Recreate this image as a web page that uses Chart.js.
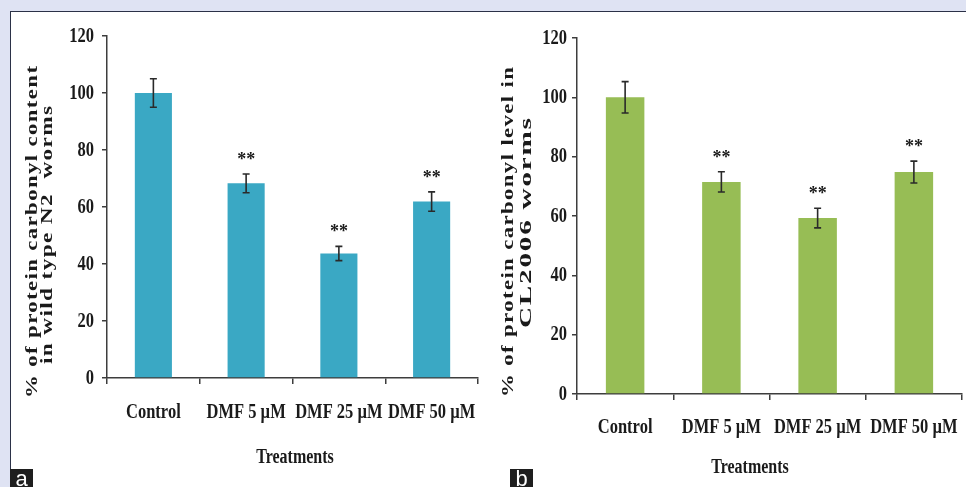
<!DOCTYPE html>
<html>
<head>
<meta charset="utf-8">
<script src="https://cdn.jsdelivr.net/npm/chart.js@4.4.1/dist/chart.umd.min.js"></script>
<style>
  html, body { margin: 0; padding: 0; width: 966px; height: 487px; overflow: hidden; background: #dfe3f3; }
  #panel { position: absolute; left: 10px; top: 11px; width: 956px; height: 476px; background: #fff;
           border-left: 1px solid #2b3147; border-top: 1px solid #2b3147; box-sizing: border-box; }
  #chartA { position: absolute; left: 10px; top: 11px; }
  #chartB { position: absolute; left: 485px; top: 11px; }
  .tag { position: absolute; top: 469px; width: 23px; height: 20px; background: #1e1e1e; color: #fff;
         font: 22px "Liberation Sans", Arial, sans-serif; line-height: 20px; text-align: center; }
</style>
</head>
<body>
<div id="panel"></div>
<canvas id="chartA" width="475" height="476"></canvas>
<canvas id="chartB" width="481" height="476"></canvas>
<div class="tag" style="left:10px;">a</div>
<div class="tag" style="left:510px;">b</div>
<script>
// Treatment groups shared by both panels
const categories = ['Control', 'DMF 5 µM', 'DMF 25 µM', 'DMF 50 µM'];

// Value axis range (percent of control)
const yMin = 0;
const yMax = 120;
const yStep = 20;

// Panel a: wild type N2 worms
const carbonylN2 = [100, 68.3, 43.7, 61.9];
const carbonylN2Err = [5, 3.3, 2.5, 3.4];
const signifN2 = ['', '**', '**', '**'];

// Panel b: CL2006 worms
const carbonylCL2006 = [100, 71.5, 59.3, 74.8];
const carbonylCL2006Err = [5.3, 3.4, 3.3, 3.7];
const signifCL2006 = ['', '**', '**', '**'];

const SERIF = '"Liberation Serif", "Times New Roman", serif';
const AXIS_COLOR = '#3d3d3d';

// Tick labels are set in a narrow (horizontally condensed) serif face
const condensedTicksPlugin = {
  id: 'condensedTicks',
  beforeDraw(chart, args, opts) {
    Object.values(chart.scales).forEach(scale => {
      if (scale._condensedLabels) return;
      const original = scale.drawLabels;
      scale.drawLabels = function (area) {
        const ctx = this.ctx;
        const proto = Object.getPrototypeOf(ctx).fillText;
        ctx.fillText = function (text, x, y) {
          this.save();
          this.translate(x, y);
          this.scale(opts.factor, 1);
          proto.call(this, text, 0, 0);
          this.restore();
        };
        try { original.call(this, area); } finally { delete ctx.fillText; }
      };
      scale._condensedLabels = true;
    });
  }
};

// Error bars with caps, plus significance marks above them
const errorBarPlugin = {
  id: 'errorBars',
  afterDatasetsDraw(chart, args, opts) {
    const { ctx, scales: { y } } = chart;
    const meta = chart.getDatasetMeta(0);
    const values = chart.data.datasets[0].data;
    ctx.save();
    ctx.strokeStyle = '#2a2a2a';
    ctx.lineWidth = 1.6;
    values.forEach((v, i) => {
      const e = opts.errors[i];
      const px = meta.data[i].x;
      const top = y.getPixelForValue(v + e);
      const bot = y.getPixelForValue(v - e);
      ctx.beginPath();
      ctx.moveTo(px, top); ctx.lineTo(px, bot);
      ctx.moveTo(px - 3.5, top); ctx.lineTo(px + 3.5, top);
      ctx.moveTo(px - 3.5, bot); ctx.lineTo(px + 3.5, bot);
      ctx.stroke();
      if (opts.marks[i]) {
        ctx.fillStyle = '#1a1a1a';
        ctx.font = 'bold 18px ' + SERIF;
        ctx.textAlign = 'center';
        ctx.textBaseline = 'alphabetic';
        ctx.fillText(opts.marks[i], px, top - 18 + 9);
      }
    });
    ctx.restore();
  }
};

// Axis titles: rotated two-line value title (stretched along its run) and condensed category title
const axisTitlePlugin = {
  id: 'axisTitles',
  afterDraw(chart, args, opts) {
    const { ctx } = chart;
    ctx.save();
    ctx.fillStyle = '#1a1a1a';
    ctx.textBaseline = 'middle';
    ctx.textAlign = 'left';
    ctx.font = 'bold 17px ' + SERIF;
    opts.yLines.forEach(line => {
      ctx.save();
      ctx.letterSpacing = '1px';
      const w = ctx.measureText(line.text).width - 1;
      const stretch = line.length / w;
      ctx.translate(line.x, line.y);
      ctx.rotate(-Math.PI / 2);
      ctx.scale(stretch, 1);
      ctx.fillText(line.text, -w / 2, 0);
      ctx.restore();
    });
    ctx.save();
    ctx.font = 'bold 20px ' + SERIF;
    ctx.letterSpacing = '0px';
    ctx.textAlign = 'center';
    ctx.translate(opts.xTitle.x, opts.xTitle.y);
    ctx.scale(0.8, 1);
    ctx.fillText(opts.xTitle.text, 0, 0);
    ctx.restore();
    ctx.restore();
  }
};

function buildChart(id, values, errors, marks, color, geo, titles) {
  const tickFont = { family: SERIF, size: 22, weight: 'bold' };
  return new Chart(document.getElementById(id), {
    type: 'bar',
    data: {
      labels: categories,
      datasets: [{
        data: values,
        backgroundColor: color,
        borderWidth: 0,
        barPercentage: 0.4,
        categoryPercentage: 1.0
      }]
    },
    options: {
      responsive: false,
      animation: false,
      events: [],
      layout: { padding: { left: 0, top: geo.top, right: geo.right, bottom: 0 } },
      plugins: {
        legend: { display: false },
        tooltip: { enabled: false },
        condensedTicks: { factor: 0.75 },
        errorBars: { errors: errors, marks: marks },
        axisTitles: titles
      },
      scales: {
        x: {
          grid: { offset: true, drawOnChartArea: false, drawTicks: true, tickLength: 6, color: AXIS_COLOR, lineWidth: 1.5 },
          border: { color: AXIS_COLOR, width: 1.5 },
          ticks: { font: tickFont, color: '#1a1a1a', padding: geo.xPad, maxRotation: 0, minRotation: 0, autoSkip: false },
          afterFit(s) { s.height = geo.xHeight; s.paddingLeft = 0; s.paddingRight = 0; }
        },
        y: {
          min: yMin, max: yMax,
          grid: { drawOnChartArea: false, drawTicks: true, tickLength: 5, color: AXIS_COLOR, lineWidth: 1.5 },
          border: { color: AXIS_COLOR, width: 1.5 },
          ticks: { stepSize: yStep, font: tickFont, color: '#1a1a1a', padding: geo.yPad },
          afterFit(s) { s.width = geo.yWidth; }
        }
      }
    },
    plugins: [condensedTicksPlugin, errorBarPlugin, axisTitlePlugin]
  });
}

buildChart('chartA', carbonylN2, carbonylN2Err, signifN2, '#3aa8c4',
  { top: 25, right: 7, xHeight: 109, yWidth: 97, xPad: 15.5, yPad: 8 },
  {
    yLines: [
      { text: '% of protein carbonyl content', x: 23, y: 221, length: 332 },
      { text: 'in wild type N2  worms', x: 37.5, y: 224, length: 258 }
    ],
    xTitle: { text: 'Treatments', x: 285, y: 447 }
  });

buildChart('chartB', carbonylCL2006, carbonylCL2006Err, signifCL2006, '#97bd55',
  { top: 27, right: 4, xHeight: 93, yWidth: 92, xPad: 14.5, yPad: 5 },
  {
    yLines: [
      { text: '% of protein carbonyl level in', x: 24, y: 221, length: 330 },
      { text: 'CL2006 worms', x: 42, y: 212, length: 210 }
    ],
    xTitle: { text: 'Treatments', x: 265, y: 457 }
  });
</script>
</body>
</html>
